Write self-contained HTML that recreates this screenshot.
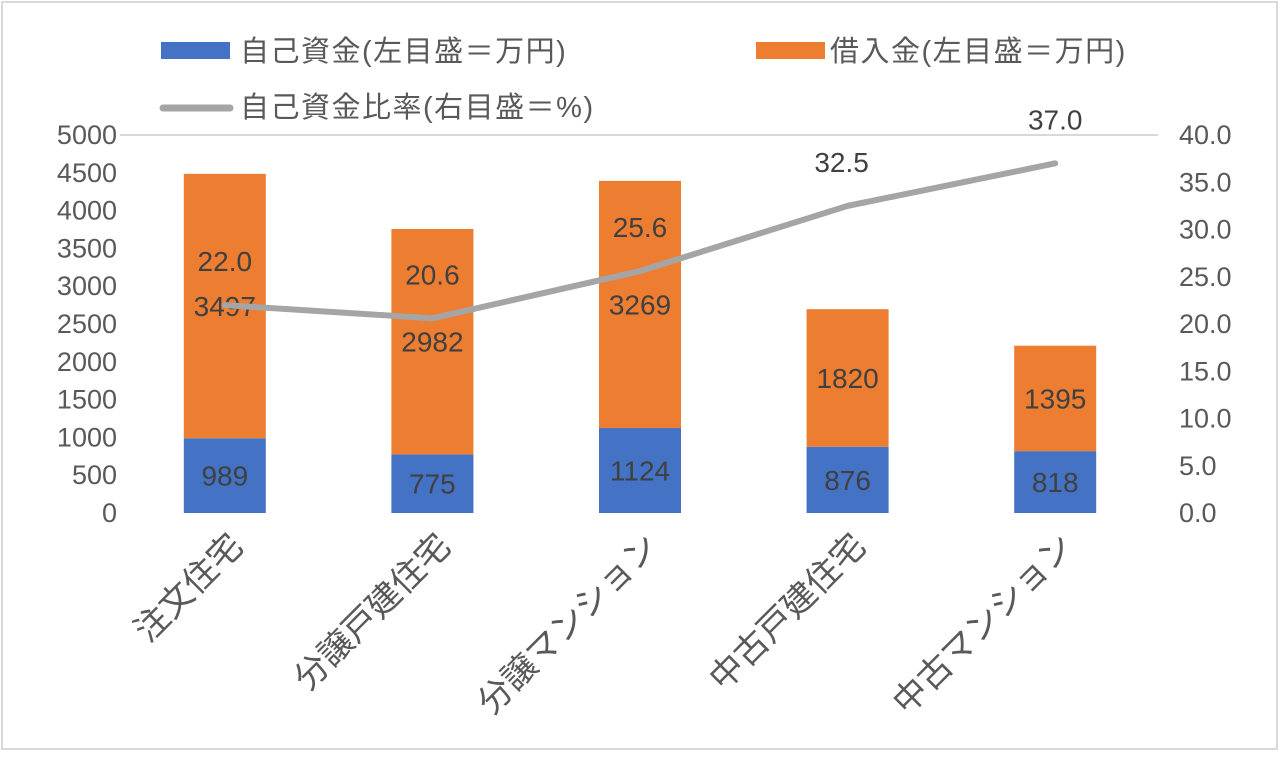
<!DOCTYPE html>
<html><head><meta charset="utf-8">
<style>
html,body{margin:0;padding:0;background:#fff;}
body{width:1280px;height:752px;overflow:hidden;font-family:"Liberation Sans","Noto Sans CJK JP",sans-serif;}
svg text{font-family:"Liberation Sans","Noto Sans CJK JP",sans-serif;}
</style></head>
<body>
<svg id="chart" width="1280" height="752" xmlns="http://www.w3.org/2000/svg">
<rect x="2" y="2" width="1275" height="747" fill="#fff" stroke="#d9d9d9" stroke-width="2"/>
<g id="legend">
<rect x="161" y="42" width="69" height="17" fill="#4472c4"/>
<text x="240" y="61" font-size="29" letter-spacing="1.5" fill="#595959">自己資金(左目盛＝万円)</text>
<rect x="756" y="42" width="69" height="17" fill="#ed7d31"/>
<text x="830" y="61" font-size="29" letter-spacing="1.5" fill="#595959">借入金(左目盛＝万円)</text>
<line x1="163" y1="108" x2="230" y2="108" stroke="#a5a5a5" stroke-width="7" stroke-linecap="round"/>
<text x="240" y="117" font-size="29" letter-spacing="1.5" fill="#595959">自己資金比率(右目盛＝%)</text>
</g>
<g id="plot"></g>
</svg>
<script>
const categories=["注文住宅","分譲戸建住宅","分譲マンション","中古戸建住宅","中古マンション"];
const ownFunds=[989,775,1124,876,818];
const loans=[3497,2982,3269,1820,1395];
const ratios=[22.0,20.6,25.6,32.5,37.0];
const leftTicks=[0,500,1000,1500,2000,2500,3000,3500,4000,4500,5000];
const rightTicks=[0,5,10,15,20,25,30,35,40];

(function(){
const NS="http://www.w3.org/2000/svg";
const g=document.getElementById('plot');
const y0=513,yTop=135,plotL=120,plotR=1158;
const yL=v=>y0-(v/5000)*(y0-yTop);
const yR=v=>y0-(v/40)*(y0-yTop);
const step=(plotR-plotL)/categories.length;
const xC=i=>plotL+step*(i+0.5)+1;
const bw=82;
function el(t,a,txt){const e=document.createElementNS(NS,t);for(const k in a)e.setAttribute(k,a[k]);if(txt!=null)e.textContent=txt;g.appendChild(e);return e;}

const topLine=el('line',{x1:plotL,y1:yTop,x2:plotR,y2:yTop,stroke:'#d9d9d9','stroke-width':2});



leftTicks.forEach(v=>{
  const t=el('text',{x:117,y:yL(v)+9,'font-size':27,fill:'#595959','text-anchor':'end'},String(v));
  
  
});
rightTicks.forEach(v=>{
  const t=el('text',{x:1179,y:yR(v)+9,'font-size':27,fill:'#595959'},v.toFixed(1));
  
  
});

categories.forEach((c,i)=>{
  const x=xC(i)-bw/2;
  const b=el('rect',{x:x,y:yL(ownFunds[i]),width:bw,height:y0-yL(ownFunds[i]),fill:'#4472c4'});
  
  
  const o=el('rect',{x:x,y:yL(ownFunds[i]+loans[i]),width:bw,height:yL(ownFunds[i])-yL(ownFunds[i]+loans[i]),fill:'#ed7d31'});
  
  
  const t1=el('text',{x:xC(i),y:(yL(ownFunds[i])+y0)/2+10,'font-size':28,fill:'#404040','text-anchor':'middle'},String(ownFunds[i]));
  
  
  const t2=el('text',{x:xC(i),y:(yL(ownFunds[i])+yL(ownFunds[i]+loans[i]))/2+10,'font-size':28,fill:'#404040','text-anchor':'middle'},String(loans[i]));
  
  
  const cl=el('text',{x:0,y:0,'font-size':34,fill:'#595959','text-anchor':'end',transform:`translate(${xC(i)+20},${548}) rotate(-45)`},c);
  
  
});

const pts=ratios.map((r,i)=>xC(i)+','+yR(r)).join(' ');
const pl=el('polyline',{points:pts,fill:'none',stroke:'#a5a5a5','stroke-width':6,'stroke-linejoin':'round','stroke-linecap':'round'});


ratios.forEach((r,i)=>{
  const t=el('text',{x:xC(i)-(i===3?6:0),y:yR(r)-34,'font-size':28,fill:'#404040','text-anchor':'middle'},r.toFixed(1));
  
  
});
})();
</script>
</body></html>
